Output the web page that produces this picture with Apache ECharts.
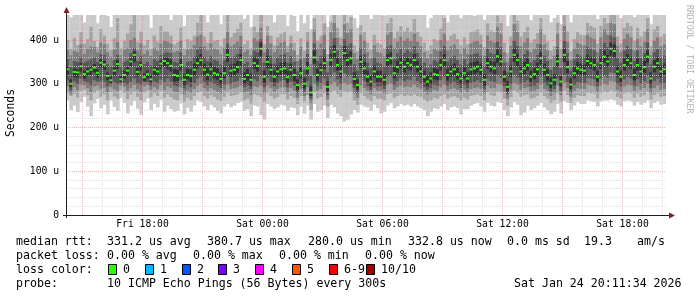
<!DOCTYPE html>
<html><head><meta charset="utf-8">
<script src="https://cdn.jsdelivr.net/npm/echarts@6.0.0/dist/echarts.min.js"></script>
<style>html,body{margin:0;padding:0;background:#fff}#c{width:697px;height:297px}</style>
</head><body><div id="c"></div>
<script>
// ---- time window (hours since Fri 00:00), 10-minute bins ----
var T0 = 14.175, T1 = 44.175, STEP = 1/6;
var YMAX = 457.14;
var xTickPos = [18, 24, 30, 36, 42];
var xTickLabels = ['Fri 18:00', 'Sat 00:00', 'Sat 06:00', 'Sat 12:00', 'Sat 18:00'];
var yTickLabels = ['0', '100 u', '200 u', '300 u', '400 u'];

// ---- sorted ping RTTs per bin (us): p1 = fastest ... p10 = slowest ----
var med = [333,300,327,326,340,322,328,332,337,325,348,344,318,308,330,345,310,320,330,351,366,327,343,315,322,310,332,328,346,352,
347,341,320,318,343,309,320,318,332,347,354,332,321,333,324,321,311,324,366,330,332,338,354,311,320,309,347,341,380,316,
350,332,316,328,333,335,315,332,320,297,324,300,335,280,360,320,331,347,293,354,373,343,328,370,354,358,311,297,350,335,
316,305,328,316,316,309,354,358,324,338,348,339,347,343,354,339,328,316,305,312,322,320,343,354,320,328,333,322,312,324,
312,333,335,339,332,309,347,339,335,363,351,316,293,328,366,354,328,335,343,316,322,333,358,332,320,301,309,351,305,366,
338,298,324,335,332,330,352,347,343,316,347,362,351,380,375,328,316,343,354,347,320,343,328,338,362,312,339,347,328,333];
var p1 = [262,240,250,235,258,270,248,226,255,265,244,252,230,262,247,238,268,256,232,250,261,243,229,257,266,240,254,246,263,236,
250,242,236,238,255,230,245,236,250,262,258,248,240,252,246,238,232,248,254,246,250,256,258,238,242,226,250,248,228,218,
254,248,242,246,252,250,238,246,244,228,248,232,250,218,254,236,240,250,222,252,246,232,226,214,218,230,240,234,252,248,
246,238,252,244,232,236,250,256,244,248,254,250,252,248,254,248,244,240,226,236,244,242,248,254,240,246,248,244,230,242,
242,250,254,256,248,236,256,250,248,258,256,240,226,246,258,252,228,234,250,240,244,250,256,246,240,230,236,254,232,260,
256,240,250,258,254,254,262,260,258,248,260,262,262,264,262,252,248,260,262,260,250,258,252,256,262,244,256,260,252,254];
var p2 = [280,272,277,268,283,286,274,262,279,284,270,276,262,281,271,266,285,279,265,276,282,270,262,280,284,269,278,272,283,268,
276,270,264,262,276,258,268,262,272,280,282,272,266,274,270,264,260,270,280,272,274,276,280,262,266,255,276,274,270,258,
278,272,266,270,276,276,264,272,268,254,272,258,274,240,280,266,270,278,248,280,284,276,270,282,280,282,262,252,278,272,
266,260,272,266,266,262,276,278,268,272,276,272,274,272,276,272,270,264,258,262,268,266,272,276,266,270,272,268,262,268,
264,272,274,276,272,262,280,274,272,282,280,266,250,270,284,280,270,274,276,266,268,272,280,272,266,256,262,278,258,284,
274,256,268,274,272,272,280,278,278,266,278,282,280,284,282,270,266,278,280,278,268,278,270,274,282,264,274,278,270,272];
var p3 = [294,276,292,285,298,297,290,281,294,296,288,291,280,292,287,283,296,293,284,290,298,287,282,294,297,286,292,288,297,286,
294,290,282,280,292,276,284,279,288,296,300,290,284,290,286,282,278,286,298,288,290,292,296,280,283,274,294,292,296,278,
296,290,282,288,292,292,280,290,284,268,288,272,292,256,300,284,288,296,264,298,304,294,286,302,298,300,278,268,296,290,
284,276,290,284,284,278,298,300,286,292,296,292,294,292,298,292,288,282,276,280,286,284,292,298,284,288,290,286,280,286,
280,288,290,292,288,278,296,290,290,300,298,282,266,286,302,298,286,290,292,282,284,288,298,288,284,272,278,296,274,302,
290,270,284,290,288,288,298,296,294,282,296,300,298,306,304,286,282,294,298,296,284,294,286,290,300,278,290,296,286,288];
var p4 = [307,284,305,300,312,306,303,297,308,305,305,305,294,299,303,299,302,302,298,304,312,301,298,304,304,296,305,302,310,304,
312,305,296,294,308,289,298,292,302,312,316,304,297,304,300,296,290,298,318,300,304,306,314,292,296,288,310,306,318,292,
314,304,294,302,306,308,292,304,296,278,300,282,306,266,318,296,302,312,274,316,326,310,300,324,316,318,290,278,314,306,
294,286,302,294,294,288,316,318,298,306,312,306,310,308,316,306,300,292,286,290,298,296,308,316,296,300,304,298,290,298,
290,302,304,308,302,288,312,306,304,318,314,294,276,300,320,314,300,304,308,294,296,302,316,302,296,282,288,312,284,320,
304,280,298,304,302,302,314,312,310,294,312,318,314,326,324,300,294,310,316,312,296,310,300,306,318,290,306,312,300,302];
var p5 = [321,292,315,314,328,312,318,320,326,314,336,332,308,302,320,334,304,312,318,340,350,316,330,306,312,303,320,318,334,340,
334,328,305,306,330,297,310,304,318,335,340,320,308,320,312,309,299,312,350,316,320,325,340,300,306,296,334,328,362,302,
336,320,304,316,320,322,302,318,306,286,312,289,322,272,346,306,318,334,282,340,358,330,314,356,340,344,298,286,336,322,
304,294,315,304,303,297,340,344,312,325,335,326,334,330,340,326,315,304,294,300,310,308,330,340,307,315,320,310,300,312,
300,320,322,326,318,296,334,326,322,348,338,304,282,315,350,340,315,322,330,304,310,320,344,318,307,290,297,338,294,350,
324,288,312,322,319,318,338,334,330,304,334,348,338,364,360,315,304,330,340,334,308,330,315,325,348,300,326,334,315,320];
var p6 = [340,310,335,332,348,330,336,340,345,333,356,352,326,316,338,354,318,330,338,358,374,336,350,324,330,320,340,336,354,360,
360,356,334,332,356,322,334,333,346,362,368,346,336,348,338,335,326,338,380,344,346,352,368,326,334,324,362,356,394,330,
364,346,330,342,348,350,330,346,334,310,338,314,350,294,376,334,346,362,306,368,388,358,342,386,368,374,326,310,364,350,
330,318,342,330,330,322,368,372,338,352,362,352,360,356,368,352,342,330,318,326,336,334,356,368,334,342,346,336,326,338,
326,348,350,352,346,322,362,352,350,378,366,330,306,342,382,368,342,350,358,330,336,348,372,346,334,314,322,366,318,380,
352,312,338,350,346,344,366,362,358,330,362,376,366,394,390,342,330,358,368,362,334,358,342,352,376,326,354,362,342,346];
var p7 = [356,338,352,350,362,348,352,356,360,350,368,366,345,340,354,366,340,350,354,370,382,352,364,345,350,342,356,352,366,370,
372,370,350,348,372,340,350,352,362,378,384,362,352,364,355,352,344,354,392,360,362,368,384,345,350,340,376,372,402,348,
382,364,346,360,366,368,348,364,350,328,356,332,368,318,392,352,364,380,326,386,404,376,360,402,386,392,344,330,382,368,
348,336,360,348,346,340,384,388,356,370,380,370,378,372,386,370,360,348,336,344,354,350,374,386,350,360,364,354,344,356,
344,366,368,370,364,340,380,370,368,396,384,348,326,360,398,386,360,368,376,348,354,366,390,364,352,332,340,384,336,398,
370,330,356,368,364,362,384,380,376,348,380,394,384,410,406,360,348,376,386,380,352,376,360,370,394,344,372,380,360,364];
var p8 = [378,365,375,372,390,368,380,385,384,372,394,390,372,362,378,395,365,378,382,400,405,376,392,368,376,364,382,375,392,398,
396,392,372,375,398,365,378,380,388,408,412,386,376,392,380,378,368,382,420,386,390,396,410,372,378,365,404,398,428,372,
410,392,372,386,394,396,372,392,376,352,384,360,396,345,422,380,392,412,352,418,440,405,388,436,416,424,370,356,412,398,
372,358,388,372,370,362,412,418,382,396,408,398,404,398,414,396,386,372,358,368,380,376,400,414,376,386,390,380,368,382,
368,392,396,398,390,364,410,398,394,430,414,372,350,386,436,418,386,394,404,372,380,392,424,390,376,356,364,414,360,432,
396,354,380,394,390,388,412,406,402,372,406,424,412,440,436,386,372,402,414,406,376,402,386,396,424,366,398,406,386,390];
var p9 = [400,380,405,388,418,392,402,430,398,384,425,410,392,378,404,450,382,398,415,436,470,396,420,388,400,380,410,396,432,420,
420,410,390,395,428,380,402,398,410,440,462,408,394,418,398,400,386,404,470,406,416,425,440,390,398,382,430,418,470,390,
432,410,388,406,414,418,386,410,394,366,404,376,418,362,450,398,410,438,368,442,470,428,406,462,440,452,388,374,434,418,
394,378,412,394,390,382,438,450,404,420,432,420,428,420,448,418,408,394,376,388,402,398,426,450,398,410,414,402,388,406,
390,418,420,424,412,384,438,422,418,456,440,394,370,408,462,444,408,418,430,394,402,416,450,412,396,376,386,440,380,458,
420,374,402,418,412,410,440,432,428,392,432,450,438,470,462,408,392,428,440,432,398,428,408,420,450,386,424,432,408,414];
var p10 = [470,452,470,470,470,440,470,470,470,438,470,470,455,430,470,470,470,470,470,470,470,458,470,470,470,428,470,470,470,470,
470,446,470,470,470,432,470,470,470,470,470,470,440,470,470,470,436,470,470,470,470,470,470,448,470,430,470,470,470,470,
470,470,440,470,470,470,432,470,455,420,470,438,470,425,470,470,470,470,430,470,470,470,470,470,470,470,450,428,470,470,
470,448,470,470,470,456,470,470,470,470,470,470,470,470,470,470,470,464,428,450,470,470,470,470,440,470,470,470,450,470,
470,470,455,470,470,446,470,470,470,470,470,470,432,470,470,470,470,470,470,445,470,470,470,470,470,440,450,470,436,470,
470,440,470,470,470,470,470,470,470,448,470,470,470,470,470,470,450,470,470,470,452,470,470,470,470,436,470,470,470,470];

// ---- legend texts ----
var rttLine = ['median rtt:', '331.2 us avg', '380.7 us max', '280.0 us min', '332.8 us now', '0.0 ms sd', '19.3', 'am/s'];
var lossLine = ['packet loss:', '0.00 % avg', '0.00 % max', '0.00 % min', '0.00 % now'];
var lossTitle = 'loss color:';
var lossLabels = ['0', '1', '2', '3', '4', '5', '6-9', '10/10'];
var lossColors = ['#26ff00', '#00b8ff', '#0059ff', '#7e00ff', '#ff00ff', '#ff5500', '#ff0000', '#a00000'];
var probeLine = ['probe:', '10 ICMP Echo Pings (56 Bytes) every 300s', 'Sat Jan 24 20:11:34 2026'];
var watermark = 'RRDTOOL / TOBI OETIKER';
var yName = 'Seconds';

var SMOKE = ['#cacaca', '#a4a4a4', '#7e7e7e', '#585858', '#323232'];
var MINOR = 'rgba(215,215,215,0.75)';
var MAJOR = 'rgba(225,105,105,0.45)';
var MONO = '"DejaVu Sans Mono", monospace';

var rows = [];
for (var i = 0; i < med.length; i++) {
  rows.push([T0 + i * STEP, p1[i], p2[i], p3[i], p4[i], p5[i], p6[i], p7[i], p8[i], p9[i], p10[i], med[i]]);
}

// grid lines (drawn above the smoke, like rrdtool)
var gridLines = [];
for (var h = Math.ceil(T0); h <= Math.floor(T1); h++) {
  gridLines.push({xAxis: h, lineStyle: {color: (h % 3 === 0) ? MAJOR : MINOR, type: 'dotted', width: 1}});
}
for (var v = 20; v < YMAX; v += 20) {
  gridLines.push({yAxis: v, lineStyle: {color: (v % 100 === 0) ? MAJOR : MINOR, type: 'dotted', width: 1}});
}

function txt(s, x, y, size, extra) {
  var o = {type: 'text', x: x, y: y, z: 30, silent: true,
    style: {text: s, fill: '#000', font: size + 'px ' + MONO, textAlign: 'left', textVerticalAlign: 'middle', align: 'left', verticalAlign: 'middle'}};
  if (extra) for (var k in extra) o[k] = extra[k];
  return o;
}

var graphics = [];
graphics.push({type: 'line', z: 25, silent: true, shape: {x1: 63, y1: 215.5, x2: 670, y2: 215.5}, style: {stroke: '#1f1f1f', lineWidth: 1}});
graphics.push({type: 'polygon', z: 25, silent: true, shape: {points: [[669, 212.5], [675, 215.5], [669, 218.5]]}, style: {fill: '#7f1f1f'}});
graphics.push({type: 'line', z: 25, silent: true, shape: {x1: 66.5, y1: 218, x2: 66.5, y2: 12}, style: {stroke: '#1f1f1f', lineWidth: 1}});
graphics.push({type: 'polygon', z: 25, silent: true, shape: {points: [[63.5, 13], [66.5, 7], [69.5, 13]]}, style: {fill: '#7f1f1f'}});
var rttX = [16, 107, 207, 308, 408, 507, 584, 637];
rttLine.forEach(function (s, k) { graphics.push(txt(s, rttX[k], 241.5, 11.6)); });
var lossX = [16, 107, 193, 279, 365];
lossLine.forEach(function (s, k) { graphics.push(txt(s, lossX[k], 255.5, 11.6)); });
graphics.push(txt(lossTitle, 16, 269.5, 11.6));
lossLabels.forEach(function (s, k) {
  var bx = 108 + k * 36.8;
  graphics.push({type: 'rect', z: 30, silent: true, shape: {x: Math.round(bx) + 0.5, y: 264.5, width: 8, height: 10}, style: {fill: lossColors[k], stroke: '#000', lineWidth: 1}});
  graphics.push(txt(s, Math.round(bx) + 15, 269.5, 11.6));
});
graphics.push(txt(probeLine[0], 16, 283.5, 11.6));
graphics.push(txt(probeLine[1], 107, 283.5, 11.6));
graphics.push(txt(probeLine[2], 514, 283.5, 11.6));
graphics.push({type: 'text', z: 30, silent: true, x: 11, y: 113, rotation: Math.PI / 2,
  style: {text: yName, fill: '#000', font: '11.4px ' + MONO, textAlign: 'center', textVerticalAlign: 'middle', align: 'center', verticalAlign: 'middle'}});
graphics.push({type: 'text', z: 30, silent: true, x: 689, y: 5, rotation: -Math.PI / 2,
  style: {text: watermark, fill: '#b4b4b4', font: '8.2px ' + MONO, textAlign: 'left', textVerticalAlign: 'middle', align: 'left', verticalAlign: 'middle'}});

var chart = echarts.init(document.getElementById('c'), null, {renderer: 'canvas', width: 697, height: 297});
chart.setOption({
  animation: false,
  backgroundColor: '#ffffff',
  grid: {left: 66, top: 15, width: 600, height: 200, containLabel: false},
  xAxis: {
    type: 'value', min: T0, max: T1,
    axisLine: {show: false}, axisTick: {show: false}, splitLine: {show: false},
    axisLabel: {
      customValues: xTickPos, margin: 4, color: '#000', fontFamily: MONO, fontSize: 9.7,
      formatter: function (v) { var k = xTickPos.indexOf(Math.round(v)); return k >= 0 ? xTickLabels[k] : ''; }
    }
  },
  yAxis: {
    type: 'value', min: 0, max: YMAX, interval: 20,
    axisLine: {show: false}, axisTick: {show: false}, splitLine: {show: false},
    axisLabel: {
      margin: 7, color: '#000', fontFamily: MONO, fontSize: 9.7, showMaxLabel: false,
      formatter: function (v) { var r = Math.round(v); return (r % 100 === 0 && r / 100 < yTickLabels.length) ? yTickLabels[r / 100] : ''; }
    }
  },
  graphic: graphics,
  series: [
    {
      type: 'custom', clip: true, z: 2,
      encode: {x: 0, y: [1, 10]},
      data: rows,
      renderItem: function (params, api) {
        var t = api.value(0);
        var xa = api.coord([t, 0])[0];
        var xb = api.coord([t + STEP, 0])[0];
        var w = xb - xa + 0.35;
        var ch = [];
        for (var b = 0; b < 5; b++) {
          var lo = Math.min(api.value(1 + b), YMAX), hi = Math.min(api.value(10 - b), YMAX);
          var yl = api.coord([t, lo])[1], yh = api.coord([t, hi])[1];
          ch.push({type: 'rect', shape: {x: xa, y: yh, width: w, height: yl - yh}, style: {fill: SMOKE[b]}});
        }
        var ym = api.coord([t, api.value(11)])[1];
        ch.push({type: 'rect', shape: {x: xa, y: ym - 1, width: w, height: 2}, style: {fill: lossColors[0]}});
        return {type: 'group', children: ch};
      }
    },
    {
      type: 'line', data: [], z: 10, silent: true,
      markLine: {silent: true, animation: false, symbol: ['none', 'none'], label: {show: false},
        lineStyle: {type: 'dotted', width: 1},
        emphasis: {disabled: true}, data: gridLines}
    }
  ]
});
</script></body></html>
